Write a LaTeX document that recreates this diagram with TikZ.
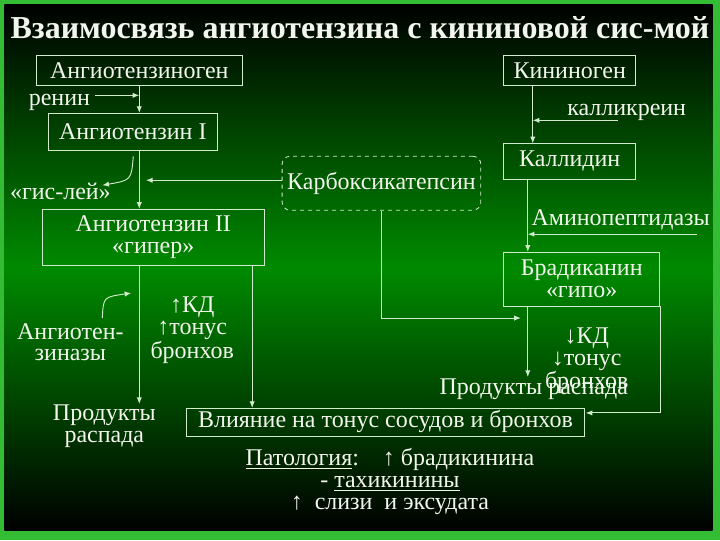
\documentclass[tikz,border=0pt]{standalone}
\usepackage{fontspec}
\setmainfont{Liberation Serif}
\usetikzlibrary{arrows.meta}
\definecolor{rim}{RGB}{52,188,52}
\definecolor{mid}{RGB}{0,138,0}
\definecolor{ink}{RGB}{242,246,236}
\definecolor{wire}{RGB}{208,236,204}
\begin{document}
\begin{tikzpicture}[x=0.75pt,y=-0.75pt,>={Latex[length=5pt,width=4pt]},
  every node/.style={font=\fontsize{18}{16.5}\selectfont,text=ink},
  box/.style={draw=wire,line width=0.6pt,inner sep=0pt,align=center},
  txt/.style={anchor=base,align=center,inner sep=0pt},
  every path/.style={draw=wire,line width=0.7pt}]
\useasboundingbox (0,0) rectangle (720,540);
% frame and background
\fill[rim] (0,0) rectangle (720,540);
\shade[top color=black,bottom color=black,middle color=mid,draw=none] (4,4) rectangle (713,531);
\node[txt,font=\fontsize{24}{26}\selectfont\bfseries] (title) at (360,38) {Взаимосвязь ангиотензина с кининовой сис-мой};

% angiotensin branch
\node[box,minimum width=154.5pt,minimum height=22.5pt] (agen) at (139,70) {Ангиотензиноген};
\node[box,minimum width=126.75pt,minimum height=27.75pt] (a1) at (132.5,131.5) {Ангиотензин I};
\node[box,minimum width=166.5pt,minimum height=42pt] (a2) at (153,237) {Ангиотензин II\\«гипер»};
\node[txt] (renin) at (59,105) {ренин};
\node[txt] (gis) at (60,199) {«гис-лей»};
\node[txt] (ase) at (70,361) {Ангиотен-\\зиназы};
\node[txt] (up) at (192,358) {↑КД\\↑тонус\\бронхов};
\node[txt] (prl) at (104,443) {Продукты\\распада};

% kinin branch
\node[box,minimum width=99pt,minimum height=22.5pt] (kgen) at (570,70) {Кининоген};
\node[box,minimum width=99pt,minimum height=27pt] (kall) at (570,161) {Каллидин};
\node[box,minimum width=117pt,minimum height=40.5pt] (brad) at (582,279) {Брадиканин\\«гипо»};
\node[txt] (kk) at (627,115) {калликреин};
\node[txt] (amino) at (621,225) {Аминопептидазы};
\node[txt,font=\fontsize{18}{17.25}\selectfont] (down) at (587,389) {↓КД\\↓тонус\\бронхов};
\node[txt] (prr) at (534,395) {Продукты распада};

% middle
\node[box,dashed,rounded corners=6pt,minimum width=149.25pt,minimum height=40.5pt] (karb) at (381.5,183) {Карбоксикатепсин};
\node[box,minimum width=299.25pt,minimum height=21pt] (vl) at (385.5,422) {Влияние на тонус сосудов и бронхов};
\node[txt] (pat) at (390,510) {\underline{Патология}:\quad ↑ брадикинина\\- \underline{тахикинины}\\↑ \ слизи \ и эксудата};

% connectors
\coordinate (rn) at (95,95);
\coordinate (g1) at (133,156);
\coordinate (g2) at (102,185);
\coordinate (z1) at (102,318);
\coordinate (z2) at (131,293);
\coordinate (p1) at (139,404);
\coordinate (v1) at (252,408);
\coordinate (kc) at (618,120);
\coordinate (k1) at (533,143);
\coordinate (am) at (697,234);
\coordinate (k2) at (528,377);
\coordinate (kb) at (521,318);
\coordinate (vr) at (586,413);
\draw[->] (agen.south) -- (a1.north -| agen.south);\draw[->] (rn) -- (rn -| agen.south);
\draw[->] (a1.south -| agen.south) -- (a2.north -| agen.south);
\draw[->] (g1) .. controls (131,180) .. (g2);
\draw[->] ([yshift=2.25pt]karb.west) -- ([yshift=2.25pt,xshift=5pt]karb.west -| agen.south);
\draw[->] (a2.south -| p1) -- (p1);\draw[->] (a2.south -| v1) -- (v1);
\draw[->] (z1) .. controls (103,297) .. (z2);
\draw[->] (kgen.south -| k1) -- (k1);\draw[->] (kc) -- (kc -| k1);
\draw[->] (kall.south -| k2) -- (brad.north -| k2);\draw[->] (am) -- (am -| k2);
\draw[->] (brad.south -| k2) -- (k2);
\draw[->] (karb.south) |- (kb);
\draw[->] (brad.south east) |- (vr);
\end{tikzpicture}
\end{document}
